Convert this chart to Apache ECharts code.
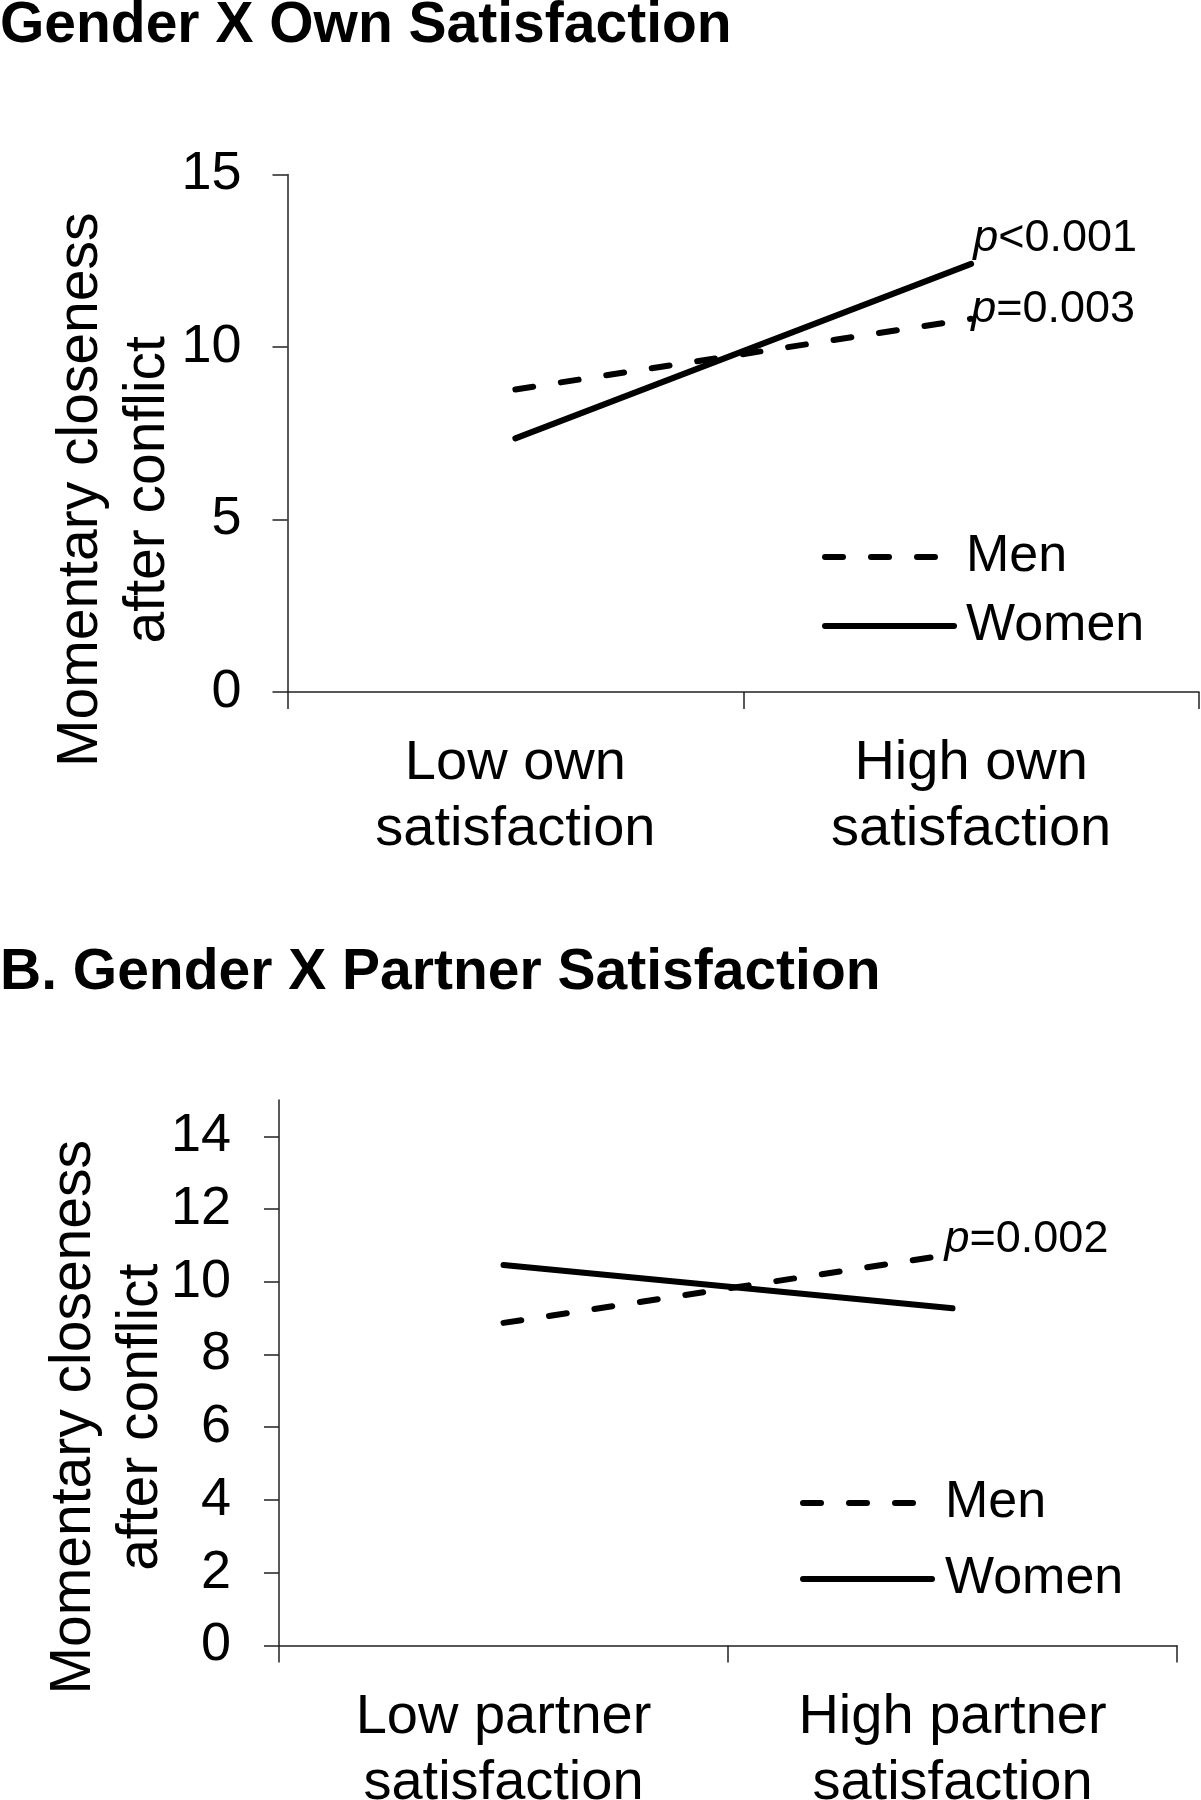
<!DOCTYPE html>
<html>
<head>
<meta charset="utf-8">
<script src="https://cdn.jsdelivr.net/npm/echarts@6/dist/echarts.min.js"></script>
<style>html,body{margin:0;padding:0;background:#fff}#c{width:1201px;height:1800px}</style>
</head>
<body>
<div id="c"></div>
<script>
// ---- data ----
const titleA = 'Gender X Own Satisfaction';
const titleB = 'B. Gender X Partner Satisfaction';
const yAxisName = 'Momentary closeness\nafter conflict';
const seriesNames = ['Men', 'Women'];
const catsA = ['Low own\nsatisfaction', 'High own\nsatisfaction'];
const catsB = ['Low partner\nsatisfaction', 'High partner\nsatisfaction'];
const menA = [8.77, 10.82];
const womenA = [7.35, 12.41];
const menB = [8.87, 10.76];
const womenB = [10.46, 9.27];
const ticksA = [0, 5, 10, 15];
const ticksB = [0, 2, 4, 6, 8, 10, 12, 14];
const pMenA = '=0.003';
const pWomenA = '<0.001';
const pMenB = '=0.002';

// ---- styling ----
const FONT = "'Liberation Sans', Arial, Helvetica, sans-serif";
const DASH = [18, 28];
const AX = '#222';

function pLabel(text, offset) {
  return {
    show: true,
    formatter: '{i|p}{t|' + text + '}',
    distance: 0,
    offset: offset,
    color: '#000',
    rich: {
      i: { fontStyle: 'italic', fontSize: 45, fontFamily: FONT, color: '#000' },
      t: { fontSize: 45, fontFamily: FONT, color: '#000' }
    }
  };
}

function line(name, data, idx, dashed, label) {
  const s = {
    name: name,
    type: 'line',
    xAxisIndex: idx,
    yAxisIndex: idx,
    data: data,
    symbol: 'none',
    showSymbol: false,
    animation: false,
    silent: true,
    lineStyle: { color: '#000', width: 6, type: dashed ? DASH : 'solid', cap: 'round' },
    itemStyle: { color: '#000' }
  };
  if (label) s.endLabel = label;
  return s;
}

function xAxis(idx, cats) {
  return {
    type: 'category', gridIndex: idx, data: cats, boundaryGap: true,
    axisLine: { show: true, lineStyle: { color: AX, width: 1.5 } },
    axisTick: { show: true, length: 17, lineStyle: { color: AX, width: 1.5 } },
    axisLabel: { interval: 0, margin: 39, fontSize: 56, lineHeight: 66, color: '#000', fontFamily: FONT },
    splitLine: { show: false }
  };
}

function yAxis(idx, ticks, interval, margin, gap, shift) {
  return {
    type: 'value', gridIndex: idx, min: 0, max: 15, interval: interval,
    axisLine: { show: true, lineStyle: { color: AX, width: 1.5 } },
    axisTick: { show: true, length: 15, customValues: ticks, lineStyle: { color: AX, width: 1.5 } },
    axisLabel: { customValues: ticks, margin: margin, fontSize: 54, color: '#000', fontFamily: FONT },
    splitLine: { show: false },
    name: yAxisName, nameLocation: 'middle', nameGap: gap, nameMoveOverlap: false,
    nameTextStyle: { fontSize: 57, lineHeight: 67, color: '#000', fontFamily: FONT, padding: [0, shift, 0, 0] }
  };
}

function legend(left, top, gap, textPad) {
  return {
    data: seriesNames, orient: 'vertical', left: left, top: top,
    itemWidth: 129, itemHeight: 14, itemGap: gap, padding: 0,
    selectedMode: false,
    itemStyle: { opacity: 0 },
    lineStyle: { width: 6 },
    textStyle: { fontSize: 52, lineHeight: 52, color: '#000', fontFamily: FONT, padding: [0, 0, 0, textPad] }
  };
}

const chart = echarts.init(document.getElementById('c'), null, { renderer: 'canvas' });
chart.setOption({
  animation: false,
  backgroundColor: '#fff',
  title: [
    { text: titleA, left: 0, top: -2, padding: 0,
      textStyle: { fontSize: 57, lineHeight: 57, fontWeight: 'bold', fontFamily: FONT, color: '#000' } },
    { text: titleB, left: 0, top: 945, padding: 0,
      textStyle: { fontSize: 57, lineHeight: 57, fontWeight: 'bold', fontFamily: FONT, color: '#000' } }
  ],
  legend: [legend(822, 531, 17, 7), legend(800, 1477, 24, 8)],
  grid: [
    { left: 287.5, top: 174.5, width: 911.5, height: 517.5, outerBoundsMode: 'none', containLabel: false },
    { left: 279, top: 1100, width: 898, height: 545.4, outerBoundsMode: 'none', containLabel: false }
  ],
  xAxis: [xAxis(0, catsA), xAxis(1, catsB)],
  yAxis: [yAxis(0, ticksA, 5, 46, 106, 113), yAxis(1, ticksB, 2, 48, 104, 89)],
  series: [
    line(seriesNames[0], menA, 0, true, pLabel(pMenA, [0, -9])),
    line(seriesNames[1], womenA, 0, false, pLabel(pWomenA, [2, -25])),
    line(seriesNames[0], menB, 1, true, pLabel(pMenB, [-8, -15])),
    line(seriesNames[1], womenB, 1, false, null)
  ]
});
</script>
</body>
</html>
